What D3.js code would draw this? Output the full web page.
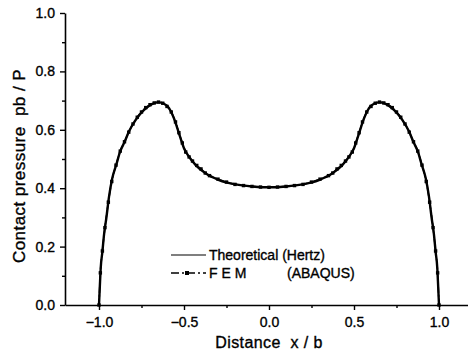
<!DOCTYPE html>
<html><head><meta charset="utf-8">
<script src="https://cdn.jsdelivr.net/npm/d3@7"></script>
<style>body{margin:0;background:#fff}svg{display:block}text{font-family:"Liberation Sans",Arial,sans-serif;fill:#000;stroke:#000;stroke-width:0.35px}</style>
</head><body>
<script>
// Theoretical (Hertz) curve
const theoX = [-1.000,-0.995,-0.990,-0.980,-0.970,-0.957,-0.941,-0.922,-0.896,-0.876,-0.849,-0.824,-0.784,-0.735,-0.686,-0.650,-0.620,-0.588,-0.559,-0.539,-0.520,-0.500,-0.471,-0.431,-0.373,-0.294,-0.196,-0.100,0.000,
  0.100,0.196,0.294,0.373,0.431,0.471,0.500,0.520,0.539,0.559,0.588,0.620,0.650,0.686,0.735,0.784,0.824,0.849,0.876,0.896,0.922,0.941,0.957,0.970,0.980,0.990,0.995,1.000];
const theoP = [0.000,0.065,0.126,0.183,0.243,0.297,0.371,0.434,0.485,0.525,0.559,0.594,0.634,0.668,0.689,0.694,0.690,0.674,0.639,0.605,0.571,0.537,0.508,0.479,0.451,0.428,0.413,0.406,0.403,
  0.406,0.413,0.428,0.451,0.479,0.508,0.537,0.571,0.605,0.639,0.674,0.690,0.694,0.689,0.668,0.634,0.594,0.559,0.525,0.485,0.434,0.371,0.297,0.243,0.183,0.126,0.065,0.000];
// FEM (ABAQUS)
const femX = [-1.000,-0.992,-0.980,-0.965,-0.945,-0.925,-0.900,-0.875,-0.850,-0.825,-0.800,-0.775,-0.750,-0.725,-0.700,-0.675,-0.650,-0.625,-0.600,-0.575,-0.550,-0.530,-0.510,-0.490,-0.470,-0.450,-0.425,-0.400,-0.375,-0.350,-0.300,-0.250,-0.200,-0.150,-0.100,-0.050,0.000,
  0.050,0.100,0.150,0.200,0.250,0.300,0.350,0.375,0.400,0.425,0.450,0.470,0.490,0.510,0.530,0.550,0.575,0.600,0.625,0.650,0.675,0.700,0.725,0.750,0.775,0.800,0.825,0.850,0.875,0.900,0.925,0.945,0.965,0.980,0.992,1.000];
const femP = [0.000,0.110,0.185,0.265,0.352,0.423,0.479,0.527,0.559,0.592,0.620,0.643,0.661,0.676,0.686,0.692,0.695,0.691,0.680,0.661,0.627,0.590,0.555,0.524,0.507,0.493,0.478,0.466,0.452,0.443,0.431,0.421,0.413,0.409,0.406,0.404,0.403,
  0.404,0.406,0.409,0.413,0.421,0.431,0.443,0.452,0.466,0.478,0.493,0.507,0.524,0.555,0.590,0.627,0.661,0.680,0.691,0.695,0.692,0.686,0.676,0.661,0.643,0.620,0.592,0.559,0.527,0.479,0.423,0.352,0.265,0.185,0.110,0.000];
const xTicks = [-1.0,-0.5,0.0,0.5,1.0];
const xMinor = [-0.75,-0.25,0.25,0.75];
const yTicks = [0.0,0.2,0.4,0.6,0.8,1.0];
const yMinor = [0.1,0.3,0.5,0.7,0.9];
const seriesNames = ["Theoretical (Hertz)", "F E M", "(ABAQUS)"];
const xTitle = "Distance\u00A0\u00A0x / b";
const yTitle = "Contact pressure\u00A0\u00A0pb / P";

const W = 468, H = 353;
const svg = d3.select("body").append("svg").attr("width", W).attr("height", H);
svg.append("rect").attr("width", W).attr("height", H).attr("fill", "#fff");

const x = d3.scaleLinear().domain([-1.2, 1.2]).range([65, 473]);
const y = d3.scaleLinear().domain([0, 1]).range([305, 13]);
const fmt = d3.format(".1f");

// axes
svg.append("g").attr("transform", `translate(0,${y(0)})`)
  .call(d3.axisBottom(x).tickValues(xTicks).tickFormat(fmt).tickSize(5).tickSizeOuter(0).tickPadding(7));
svg.append("g").attr("transform", `translate(0,${y(0)})`)
  .call(d3.axisBottom(x).tickValues(xMinor).tickFormat("").tickSize(3).tickSizeOuter(0))
  .select(".domain").remove();
svg.append("g").attr("transform", `translate(${x(-1.2)},0)`)
  .call(d3.axisLeft(y).tickValues(yTicks).tickFormat(fmt).tickSize(5).tickSizeOuter(0).tickPadding(5));
svg.append("g").attr("transform", `translate(${x(-1.2)},0)`)
  .call(d3.axisLeft(y).tickValues(yMinor).tickFormat("").tickSize(3).tickSizeOuter(0))
  .select(".domain").remove();
svg.selectAll(".domain").attr("stroke", "#000").attr("stroke-width", 1.6);
svg.selectAll(".tick line").attr("stroke", "#000").attr("stroke-width", 1.4);
svg.selectAll(".tick text").attr("font-size", 14).attr("font-family", "Liberation Sans, Arial, sans-serif").attr("fill", "#000");

// titles
svg.append("text").attr("x", 269).attr("y", 348).attr("text-anchor", "middle")
  .attr("font-size", 16).attr("letter-spacing", 0.4).text(xTitle);
svg.append("text").attr("transform", "translate(25,166) rotate(-90)").attr("text-anchor", "middle")
  .attr("font-size", 17).attr("letter-spacing", 0.45).text(yTitle);

// curves
const theo = theoX.map((v, i) => [v, theoP[i]]);
const fem = femX.map((v, i) => [v, femP[i]]);
const line = d3.line().x(d => x(d[0])).y(d => y(d[1])).curve(d3.curveMonotoneX);
svg.append("path").datum(theo).attr("d", line).attr("fill", "none").attr("stroke", "#000").attr("stroke-width", 2.4);
svg.append("path").datum(fem).attr("d", line).attr("fill", "none").attr("stroke", "#000").attr("stroke-width", 1.5).attr("stroke-dasharray", "6,2,2,2");
svg.append("g").selectAll("rect").data(fem).join("rect")
  .attr("x", d => x(d[0]) - 1.7).attr("y", d => y(d[1]) - 1.7).attr("width", 3.4).attr("height", 3.4).attr("fill", "#000");

// legend
svg.append("line").attr("x1", 171).attr("x2", 206).attr("y1", 255).attr("y2", 255).attr("stroke", "#000").attr("stroke-width", 1.2);
svg.append("text").attr("x", 209).attr("y", 260).attr("font-size", 14).text(seriesNames[0]);
svg.append("line").attr("x1", 171).attr("x2", 206).attr("y1", 273).attr("y2", 273).attr("stroke", "#000").attr("stroke-width", 1.4).attr("stroke-dasharray", "8,3,2,3");
svg.append("rect").attr("x", 185).attr("y", 271).attr("width", 4).attr("height", 4).attr("fill", "#000");
svg.append("text").attr("x", 209).attr("y", 278).attr("font-size", 14).text(seriesNames[1]);
svg.append("text").attr("x", 287).attr("y", 278).attr("font-size", 14).text(seriesNames[2]);
</script>
</body></html>
